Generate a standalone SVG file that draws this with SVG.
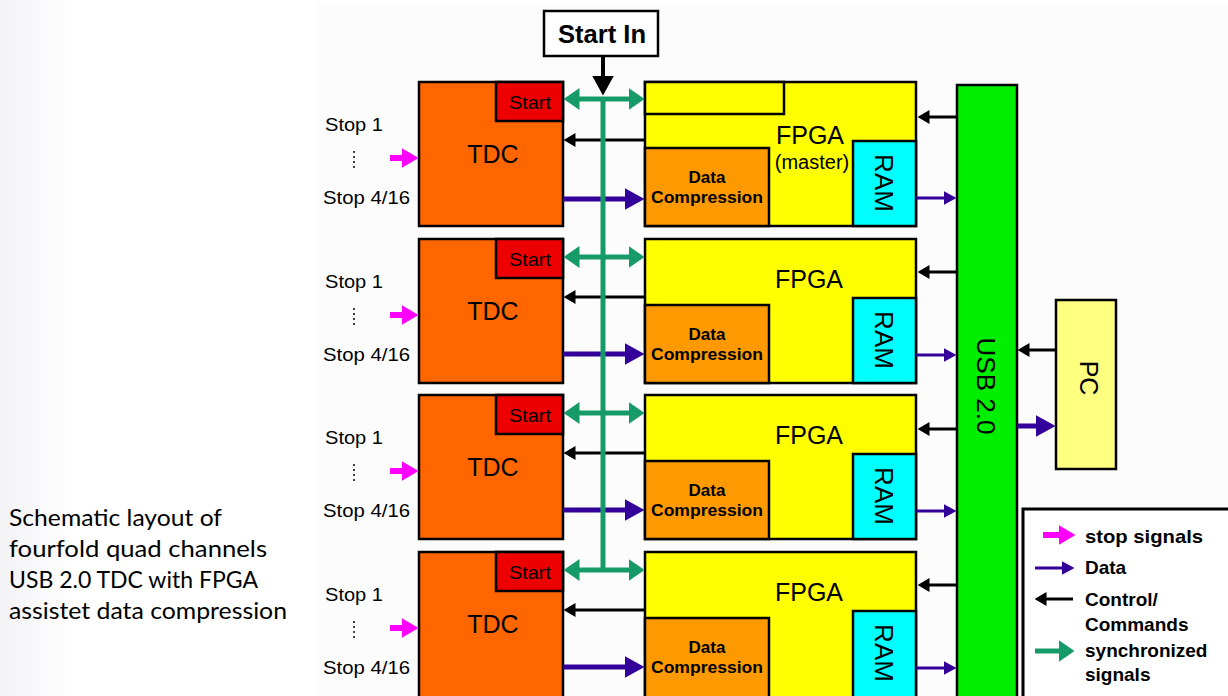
<svg xmlns="http://www.w3.org/2000/svg" width="1228" height="696" viewBox="0 0 1228 696">
<style>
.box{stroke:#000;stroke-width:2.5}
.tdc{fill:#ff6600}
.st{fill:#ee0000}
.fpga{fill:#ffff00}
.dc{fill:#ff9900}
.ram{fill:#00ffff}
.t{font-family:"Liberation Sans",Arial,sans-serif;fill:#000}
.b{font-weight:bold}
.mid{text-anchor:middle}
.cap{font-family:Lato,"Open Sans",sans-serif;font-size:23px;fill:#000}
.green{stroke:#169b68;stroke-width:5;fill:none}
.blk{stroke:#000;stroke-width:3;fill:none}
.blu{stroke:#330099;stroke-width:5;fill:none}
.blut{stroke:#330099;stroke-width:3;fill:none}
.mag{stroke:#ff00ff;stroke-width:6;fill:none}
</style>
<defs>
<linearGradient id="bgL" x1="0" y1="0" x2="1" y2="0">
<stop offset="0" stop-color="#f3f3f6"/>
<stop offset="1" stop-color="#ffffff"/>
</linearGradient>
<marker id="hMag" viewBox="0 -10 17 20" refX="0.5" refY="0" markerWidth="17" markerHeight="20" orient="auto" markerUnits="userSpaceOnUse"><path d="M0,-10L17,0L0,10z" fill="#ff00ff"/></marker>
<marker id="hBlu" viewBox="0 -11 20 22" refX="0.5" refY="0" markerWidth="20" markerHeight="22" orient="auto" markerUnits="userSpaceOnUse"><path d="M0,-11L20,0L0,11z" fill="#330099"/></marker>
<marker id="hBluS" viewBox="0 -7 13 14" refX="0.5" refY="0" markerWidth="13" markerHeight="14" orient="auto" markerUnits="userSpaceOnUse"><path d="M0,-7L13,0L0,7z" fill="#330099"/></marker>
<marker id="hBlk" viewBox="0 -7 12 14" refX="0.5" refY="0" markerWidth="12" markerHeight="14" orient="auto" markerUnits="userSpaceOnUse"><path d="M0,-7L12,0L0,7z" fill="#000"/></marker>
<marker id="hBlkB" viewBox="0 -11 20 22" refX="0.5" refY="0" markerWidth="20" markerHeight="22" orient="auto" markerUnits="userSpaceOnUse"><path d="M0,-11L20,0L0,11z" fill="#000"/></marker>
<marker id="hGrn" viewBox="0 -11 16 22" refX="0.5" refY="0" markerWidth="16" markerHeight="22" orient="auto-start-reverse" markerUnits="userSpaceOnUse"><path d="M0,-11L16,0L0,11z" fill="#169b68"/></marker>
</defs>

<rect x="0" y="0" width="1228" height="696" fill="#ffffff"/>
<rect x="0" y="0" width="75" height="696" fill="url(#bgL)"/>
<rect x="316" y="4" width="912" height="692" fill="#fcfcfc"/>

<g id="caption">
<text class="cap" x="9" y="526" textLength="213" lengthAdjust="spacingAndGlyphs">Schematic layout of</text>
<text class="cap" x="9" y="557" textLength="258" lengthAdjust="spacingAndGlyphs">fourfold quad channels</text>
<text class="cap" x="9" y="588" textLength="249" lengthAdjust="spacingAndGlyphs">USB 2.0 TDC with FPGA</text>
<text class="cap" x="9" y="619" textLength="278" lengthAdjust="spacingAndGlyphs">assistet data compression</text>
</g>

<g id="start-in">
<rect class="box" x="544" y="11" width="114" height="45" fill="#ffffff"/>
<text class="t b mid" x="602" y="43" font-size="25" textLength="88" lengthAdjust="spacingAndGlyphs">Start In</text>
</g>

<!-- Row 1 -->
<g id="stops-1">
<text class="t" x="325" y="131" font-size="18" textLength="58" lengthAdjust="spacingAndGlyphs">Stop 1</text>
<line x1="354" y1="151" x2="354" y2="171" stroke="#000" stroke-width="1.5" stroke-dasharray="2,3"/>
<text class="t" x="323" y="204" font-size="18" textLength="87" lengthAdjust="spacingAndGlyphs">Stop 4/16</text>
</g>
<g id="tdc-1">
<rect class="box tdc" x="419" y="82" width="144" height="144"/>
<rect class="box st" x="496" y="82" width="67" height="39"/>
<text class="t mid" x="530" y="109" font-size="19" textLength="42" lengthAdjust="spacingAndGlyphs">Start</text>
<text class="t mid" x="493" y="163" font-size="25">TDC</text>
</g>
<g id="fpga-1">
<rect class="box fpga" x="645" y="82" width="271" height="144"/>
<rect class="box fpga" x="645" y="82" width="139" height="32"/>
<rect class="box dc" x="645" y="148" width="124" height="78"/>
<rect class="box ram" x="853" y="141" width="63" height="85"/>
<text class="t mid" x="810" y="144" font-size="25">FPGA</text>
<text class="t mid" x="812" y="169" font-size="20">(master)</text>
<text class="t b mid" x="707" y="183" font-size="17">Data</text>
<text class="t b mid" x="707" y="203" font-size="17" textLength="112" lengthAdjust="spacingAndGlyphs">Compression</text>
<text class="t mid" transform="translate(875 183) rotate(90)" font-size="26">RAM</text>
</g>

<!-- Row 2 -->
<g id="stops-2">
<text class="t" x="325" y="288" font-size="18" textLength="58" lengthAdjust="spacingAndGlyphs">Stop 1</text>
<line x1="354" y1="308" x2="354" y2="328" stroke="#000" stroke-width="1.5" stroke-dasharray="2,3"/>
<text class="t" x="323" y="361" font-size="18" textLength="87" lengthAdjust="spacingAndGlyphs">Stop 4/16</text>
</g>
<g id="tdc-2">
<rect class="box tdc" x="419" y="239" width="144" height="144"/>
<rect class="box st" x="496" y="239" width="67" height="39"/>
<text class="t mid" x="530" y="266" font-size="19" textLength="42" lengthAdjust="spacingAndGlyphs">Start</text>
<text class="t mid" x="493" y="320" font-size="25">TDC</text>
</g>
<g id="fpga-2">
<rect class="box fpga" x="645" y="239" width="271" height="144"/>
<rect class="box dc" x="645" y="305" width="124" height="78"/>
<rect class="box ram" x="853" y="298" width="63" height="85"/>
<text class="t mid" x="809" y="288" font-size="25">FPGA</text>
<text class="t b mid" x="707" y="340" font-size="17">Data</text>
<text class="t b mid" x="707" y="360" font-size="17" textLength="112" lengthAdjust="spacingAndGlyphs">Compression</text>
<text class="t mid" transform="translate(875 340) rotate(90)" font-size="26">RAM</text>
</g>

<!-- Row 3 -->
<g id="stops-3">
<text class="t" x="325" y="444" font-size="18" textLength="58" lengthAdjust="spacingAndGlyphs">Stop 1</text>
<line x1="354" y1="464" x2="354" y2="484" stroke="#000" stroke-width="1.5" stroke-dasharray="2,3"/>
<text class="t" x="323" y="517" font-size="18" textLength="87" lengthAdjust="spacingAndGlyphs">Stop 4/16</text>
</g>
<g id="tdc-3">
<rect class="box tdc" x="419" y="395" width="144" height="144"/>
<rect class="box st" x="496" y="395" width="67" height="39"/>
<text class="t mid" x="530" y="422" font-size="19" textLength="42" lengthAdjust="spacingAndGlyphs">Start</text>
<text class="t mid" x="493" y="476" font-size="25">TDC</text>
</g>
<g id="fpga-3">
<rect class="box fpga" x="645" y="395" width="271" height="144"/>
<rect class="box dc" x="645" y="461" width="124" height="78"/>
<rect class="box ram" x="853" y="454" width="63" height="85"/>
<text class="t mid" x="809" y="444" font-size="25">FPGA</text>
<text class="t b mid" x="707" y="496" font-size="17">Data</text>
<text class="t b mid" x="707" y="516" font-size="17" textLength="112" lengthAdjust="spacingAndGlyphs">Compression</text>
<text class="t mid" transform="translate(875 496) rotate(90)" font-size="26">RAM</text>
</g>

<!-- Row 4 -->
<g id="stops-4">
<text class="t" x="325" y="601" font-size="18" textLength="58" lengthAdjust="spacingAndGlyphs">Stop 1</text>
<line x1="354" y1="621" x2="354" y2="641" stroke="#000" stroke-width="1.5" stroke-dasharray="2,3"/>
<text class="t" x="323" y="674" font-size="18" textLength="87" lengthAdjust="spacingAndGlyphs">Stop 4/16</text>
</g>
<g id="tdc-4">
<rect class="box tdc" x="419" y="552" width="144" height="150"/>
<rect class="box st" x="496" y="552" width="67" height="39"/>
<text class="t mid" x="530" y="579" font-size="19" textLength="42" lengthAdjust="spacingAndGlyphs">Start</text>
<text class="t mid" x="493" y="633" font-size="25">TDC</text>
</g>
<g id="fpga-4">
<rect class="box fpga" x="645" y="552" width="271" height="150"/>
<rect class="box dc" x="645" y="618" width="124" height="84"/>
<rect class="box ram" x="853" y="611" width="63" height="91"/>
<text class="t mid" x="809" y="601" font-size="25">FPGA</text>
<text class="t b mid" x="707" y="653" font-size="17">Data</text>
<text class="t b mid" x="707" y="673" font-size="17" textLength="112" lengthAdjust="spacingAndGlyphs">Compression</text>
<text class="t mid" transform="translate(875 653) rotate(90)" font-size="26">RAM</text>
</g>

<g id="usb">
<rect class="box" x="957" y="85" width="60" height="620" fill="#00ee00"/>
<text class="t mid" transform="translate(977 386) rotate(90)" font-size="26">USB 2.0</text>
</g>

<g id="pc">
<rect class="box" x="1056" y="300" width="60" height="169" fill="#ffff80"/>
<text class="t mid" transform="translate(1080 378) rotate(90)" font-size="25">PC</text>
</g>

<g id="connectors">
<!-- stop signals -->
<line class="mag" x1="390" y1="158" x2="402" y2="158" marker-end="url(#hMag)"/>
<line class="mag" x1="390" y1="315" x2="402" y2="315" marker-end="url(#hMag)"/>
<line class="mag" x1="390" y1="471" x2="402" y2="471" marker-end="url(#hMag)"/>
<line class="mag" x1="390" y1="628" x2="402" y2="628" marker-end="url(#hMag)"/>
<!-- control FPGA -> TDC -->
<line class="blk" x1="645" y1="140" x2="575" y2="140" marker-end="url(#hBlk)"/>
<line class="blk" x1="645" y1="297" x2="575" y2="297" marker-end="url(#hBlk)"/>
<line class="blk" x1="645" y1="453" x2="575" y2="453" marker-end="url(#hBlk)"/>
<line class="blk" x1="645" y1="610" x2="575" y2="610" marker-end="url(#hBlk)"/>
<!-- data TDC -> Data Compression -->
<line class="blu" x1="563" y1="199" x2="625" y2="199" marker-end="url(#hBlu)"/>
<line class="blu" x1="563" y1="354" x2="625" y2="354" marker-end="url(#hBlu)"/>
<line class="blu" x1="563" y1="510" x2="625" y2="510" marker-end="url(#hBlu)"/>
<line class="blu" x1="563" y1="667" x2="625" y2="667" marker-end="url(#hBlu)"/>
<!-- USB -> FPGA control -->
<line class="blk" x1="957" y1="117" x2="929" y2="117" marker-end="url(#hBlk)"/>
<line class="blk" x1="957" y1="272" x2="929" y2="272" marker-end="url(#hBlk)"/>
<line class="blk" x1="957" y1="429" x2="929" y2="429" marker-end="url(#hBlk)"/>
<line class="blk" x1="957" y1="585" x2="929" y2="585" marker-end="url(#hBlk)"/>
<!-- RAM -> USB data -->
<line class="blut" x1="916" y1="198" x2="944" y2="198" marker-end="url(#hBluS)"/>
<line class="blut" x1="916" y1="355" x2="944" y2="355" marker-end="url(#hBluS)"/>
<line class="blut" x1="916" y1="511" x2="944" y2="511" marker-end="url(#hBluS)"/>
<line class="blut" x1="916" y1="668" x2="944" y2="668" marker-end="url(#hBluS)"/>
<!-- PC <-> USB -->
<line class="blk" x1="1056" y1="350" x2="1029" y2="350" marker-end="url(#hBlk)"/>
<line class="blu" x1="1017" y1="426" x2="1036" y2="426" marker-end="url(#hBlu)"/>
<!-- synchronized start -->
<line class="green" x1="603" y1="97" x2="603" y2="572"/>
<line class="green" x1="579" y1="99" x2="629" y2="99" marker-start="url(#hGrn)" marker-end="url(#hGrn)"/>
<line class="green" x1="579" y1="257" x2="629" y2="257" marker-start="url(#hGrn)" marker-end="url(#hGrn)"/>
<line class="green" x1="579" y1="413" x2="629" y2="413" marker-start="url(#hGrn)" marker-end="url(#hGrn)"/>
<line class="green" x1="579" y1="570" x2="629" y2="570" marker-start="url(#hGrn)" marker-end="url(#hGrn)"/>
<!-- Start In -> bus -->
<line x1="603" y1="56" x2="603" y2="76" stroke="#000" stroke-width="4" marker-end="url(#hBlkB)"/>
</g>

<g id="legend">
<rect x="1023" y="509" width="230" height="200" fill="#ffffff" stroke="#000" stroke-width="3"/>
<line class="mag" x1="1043" y1="535" x2="1059" y2="535" marker-end="url(#hMag)"/>
<text class="t b" x="1085" y="543" font-size="19" textLength="118" lengthAdjust="spacingAndGlyphs">stop signals</text>
<line class="blut" x1="1035" y1="568" x2="1062" y2="568" marker-end="url(#hBluS)"/>
<text class="t b" x="1085" y="574" font-size="19">Data</text>
<line class="blk" x1="1073" y1="599" x2="1046" y2="599" marker-end="url(#hBlk)"/>
<text class="t b" x="1085" y="606" font-size="19">Control/</text>
<text class="t b" x="1085" y="631" font-size="19">Commands</text>
<line class="green" x1="1035" y1="651" x2="1059" y2="651" marker-end="url(#hGrn)"/>
<text class="t b" x="1085" y="657" font-size="19">synchronized</text>
<text class="t b" x="1085" y="681" font-size="19">signals</text>
</g>
</svg>
